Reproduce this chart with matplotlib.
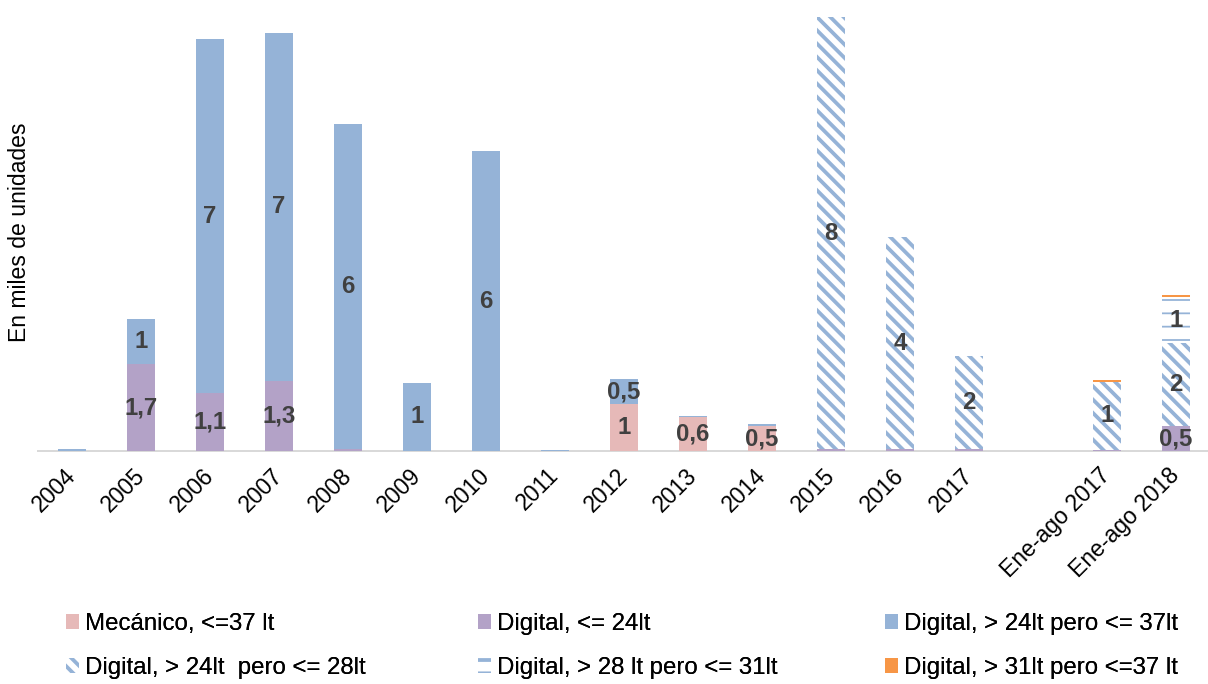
import numpy as np
import matplotlib
matplotlib.use("Agg")
import matplotlib.pyplot as plt

# data (miles de unidades)
categorias = ["2004", "2005", "2006", "2007", "2008", "2009", "2010", "2011", "2012",
              "2013", "2014", "2015", "2016", "2017", "", "Ene-ago 2017", "Ene-ago 2018"]

mecanico   = [0, 0, 0, 0, 0, 0, 0, 0, 0.90, 0.65, 0.48, 0, 0, 0, 0, 0, 0]
dig_24     = [0, 1.67, 1.11, 1.35, 0.03, 0, 0, 0, 0, 0, 0, 0.03, 0.03, 0.03, 0, 0.02, 0.48]
dig_24_37  = [0.03, 0.87, 6.81, 6.69, 6.26, 1.31, 5.77, 0.02, 0.48, 0.03, 0.03, 0, 0, 0, 0, 0, 0]
dig_24_28  = [0, 0, 0, 0, 0, 0, 0, 0, 0, 0, 0, 8.32, 4.09, 1.80, 0, 1.31, 1.60]
dig_28_31  = [0, 0, 0, 0, 0, 0, 0, 0, 0, 0, 0, 0, 0, 0, 0, 0, 0.88]
dig_31_37  = [0, 0, 0, 0, 0, 0, 0, 0, 0, 0, 0, 0, 0, 0, 0, 0.03, 0.04]

lab_mecanico  = ["", "", "", "", "", "", "", "", "1", "0,6", "0,5", "", "", "", "", "", ""]
lab_dig_24    = ["", "1,7", "1,1", "1,3", "", "", "", "", "", "", "", "", "", "", "", "", "0,5"]
lab_dig_24_37 = ["", "1", "7", "7", "6", "1", "6", "", "0,5", "", "", "", "", "", "", "", ""]
lab_dig_24_28 = ["", "", "", "", "", "", "", "", "", "", "", "8", "4", "2", "", "1", "2"]
lab_dig_28_31 = ["", "", "", "", "", "", "", "", "", "", "", "", "", "", "", "", "1"]

DPI = 80
def px(v):
    # pixel size -> points at this dpi
    return v * 72 / DPI

plt.rcParams['font.family'] = ['Liberation Sans', 'DejaVu Sans']

fig = plt.figure(figsize=(1208 / DPI, 684 / DPI), dpi=DPI)
ax = fig.add_axes([37.5 / 1208, 233 / 684, 1173 / 1208, 434 / 684])

x = np.arange(len(categorias))
w = 0.41
azul = "#95b3d7"

bottom = np.zeros(len(x))
series = [
    ("Mecánico, <=37 lt", mecanico, lab_mecanico, dict(color="#e6b9b8")),
    ("Digital, <= 24lt", dig_24, lab_dig_24, dict(color="#b3a2c7")),
    ("Digital, > 24lt pero <= 37lt", dig_24_37, lab_dig_24_37, dict(color=azul)),
    ("Digital, > 24lt  pero <= 28lt", dig_24_28, lab_dig_24_28,
     dict(color="white", edgecolor=azul, hatch="\\\\", lw=0)),
    ("Digital, > 28 lt pero <= 31lt", dig_28_31, lab_dig_28_31,
     dict(color="white", edgecolor=azul, hatch="-", lw=0)),
    ("Digital, > 31lt pero <=37 lt", dig_31_37, None, dict(color="#f79646")),
]
handles = []
for i, (name, vals, labs, style) in enumerate(series):
    plt.rcParams['hatch.linewidth'] = 1.6 if i == 4 else 3.4
    plt.rcParams['hatch.color'] = azul
    bars = ax.bar(x, vals, w, bottom=bottom, label=name, **style)
    handles.append(bars)
    if labs is not None:
        for xi, b, v, t in zip(x, bottom, vals, labs):
            if t:
                ax.text(xi, b + v / 2, t, ha="center", va="center",
                        fontsize=px(24), fontweight="bold", color="#404040")
    bottom = bottom + np.array(vals)

ax.set_xlim(-0.5, len(x) - 0.5)
ax.set_ylim(0, 8.35)
for s in ["top", "right", "left"]:
    ax.spines[s].set_visible(False)
ax.spines["bottom"].set_color("#d9d9d9")
ax.spines["bottom"].set_linewidth(px(2))
ax.spines["bottom"].set_zorder(0)
ax.set_yticks([])
ax.set_xticks(x)
ax.set_xticklabels(categorias, rotation=45, ha="right", va="center",
                   rotation_mode="anchor", fontsize=px(23), color="#000000")
ax.tick_params(axis="x", length=0, pad=px(21))

fig.text(20 / 1208, 1 - 232 / 684, "En miles de unidades", rotation=90,
         ha="center", va="center", fontsize=px(23), color="#000000")

# legend: three columns placed where the reference has them
cols = [(66, [0, 3]), (478, [1, 4]), (885, [2, 5])]
for xpos, idx in cols:
    leg = fig.legend([handles[k] for k in idx], [series[k][0] for k in idx],
                     loc="center left", bbox_to_anchor=(xpos / 1208, 1 - 646 / 684),
                     frameon=False, fontsize=px(24), handlelength=0.55,
                     handleheight=0.6, handletextpad=0.25, labelspacing=0.92,
                     borderpad=0, borderaxespad=0)
    fig.add_artist(leg)

fig.savefig("out.png", dpi=DPI)
